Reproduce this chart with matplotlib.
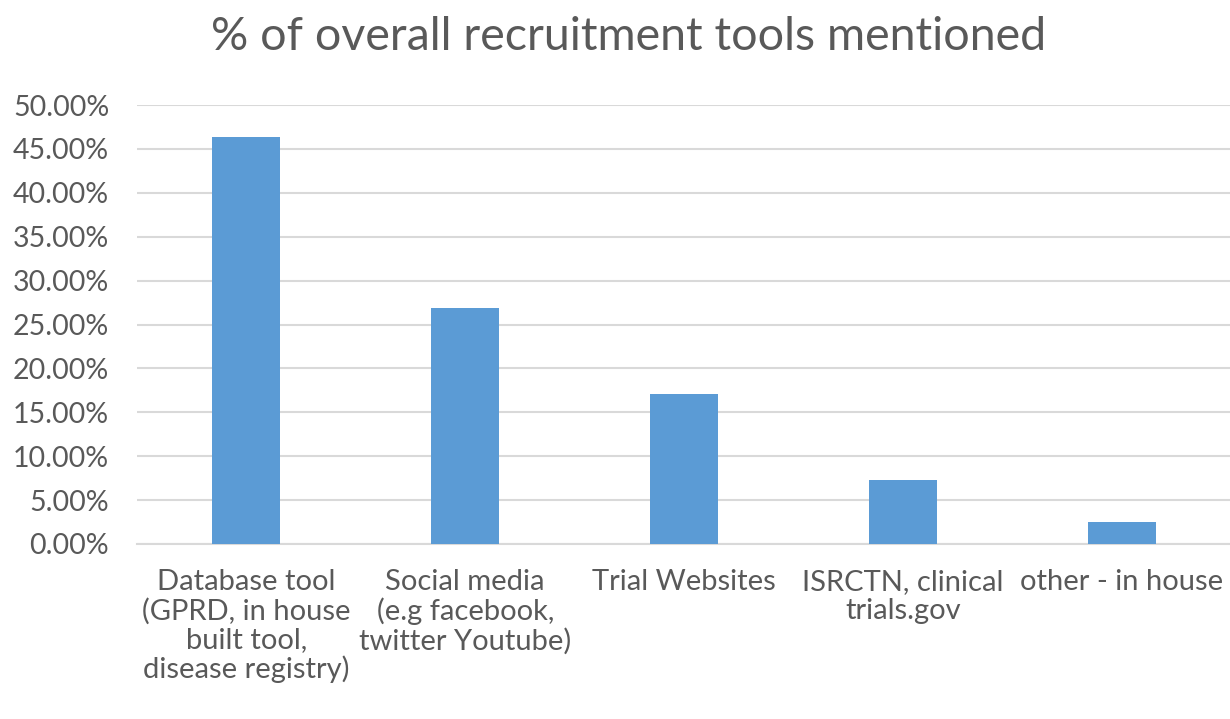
import matplotlib.pyplot as plt
from matplotlib.ticker import PercentFormatter

# data
categories = [
    "Database tool\n(GPRD, in house\nbuilt tool,\ndisease registry)",
    "Social media\n(e.g facebook,\ntwitter Youtube)",
    "Trial Websites",
    "ISRCTN, clinical\ntrials.gov",
    "other - in house",
]
values = [46.4, 26.9, 17.1, 7.3, 2.5]
yticks = [0, 5, 10, 15, 20, 25, 30, 35, 40, 45, 50]

plt.rcParams["font.family"] = ["Lato", "DejaVu Sans"]
text_color = "#595959"

fig = plt.figure(figsize=(12.3, 7.19), dpi=100)
ax = fig.add_axes([137 / 1230, 1 - 544 / 719, (1231 - 137) / 1230, (544 - 105) / 719])

x = range(len(categories))
ax.bar(x, values, width=0.31, color="#5b9bd5", zorder=3)

ax.set_xlim(-0.5, len(categories) - 0.5)
ax.set_ylim(0, 50)
ax.set_yticks(yticks)
ax.yaxis.set_major_formatter(PercentFormatter(decimals=2))
ax.set_xticks(list(x))
ax.set_xticklabels(categories, linespacing=1.12)

ax.grid(axis="y", color="#d9d9d9", linewidth=1.5, zorder=0)
for side in ["top", "right", "left"]:
    ax.spines[side].set_visible(False)
ax.spines["bottom"].set_color("#d9d9d9")
ax.spines["bottom"].set_linewidth(1.5)
ax.tick_params(axis="both", length=0, colors=text_color)
ax.tick_params(axis="y", labelsize=20.5, pad=20)
ax.tick_params(axis="x", labelsize=21, pad=18)

fig.text(0.511, 0.948, "% of overall recruitment tools mentioned",
         ha="center", va="center", fontsize=33.5, color=text_color)

plt.savefig("out.png", dpi=100)
